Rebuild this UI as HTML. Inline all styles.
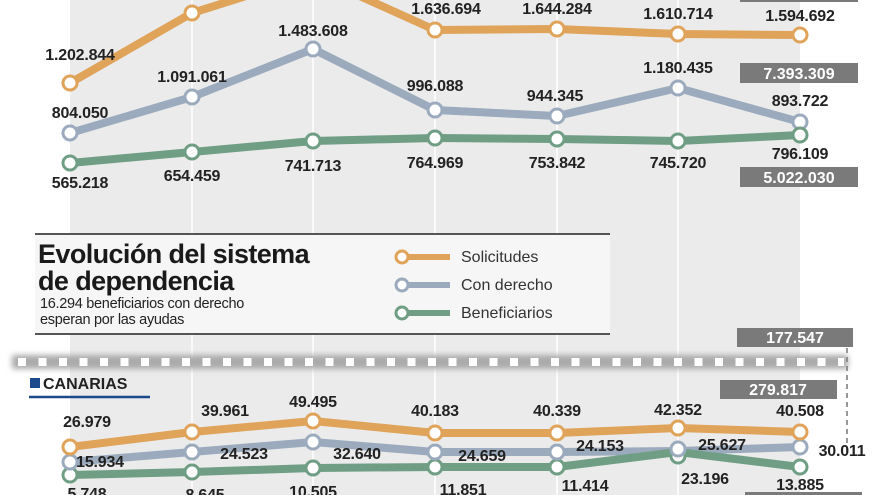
<!DOCTYPE html>
<html><head><meta charset="utf-8"><style>
html,body{margin:0;padding:0;background:#fff;}
svg{display:block;}
text{font-family:"Liberation Sans",sans-serif;}
.v{font-size:16px;font-weight:bold;fill:#222;letter-spacing:-0.2px;}
.b{font-size:16px;font-weight:bold;fill:#fff;text-anchor:middle;}
</style></head><body>
<svg width="880" height="495" viewBox="0 0 880 495" xmlns="http://www.w3.org/2000/svg">
<defs><filter id="sh" x="-5%" y="-100%" width="110%" height="300%"><feGaussianBlur stdDeviation="3"/></filter></defs>
<rect x="0" y="0" width="880" height="495" fill="#fff"/>
<rect x="70" y="0" width="730" height="495" fill="#ebebeb"/>
<g stroke="#fff" stroke-width="1.5">
<line x1="192" y1="0" x2="192" y2="495"/><line x1="313" y1="0" x2="313" y2="495"/><line x1="435" y1="0" x2="435" y2="495"/><line x1="557" y1="0" x2="557" y2="495"/><line x1="678" y1="0" x2="678" y2="495"/>
</g>
<g fill="none" stroke-width="8" stroke-linejoin="round">
<polyline stroke="#e0a35a" points="70,83 192,13 313,-25 435,30 557,29 678,34 800,35"/>
<polyline stroke="#9babbd" points="70,133 192,97 313,49 435,110 557,116 678,88 800,122"/>
<polyline stroke="#6f9e85" points="70,163 192,152 313,141 435,138 557,139 678,141 800,135"/>
</g>
<g fill="#fff" stroke-width="3">
<g stroke="#e0a35a"><circle cx="70" cy="83" r="7"/><circle cx="192" cy="13" r="7"/><circle cx="435" cy="30" r="7"/><circle cx="557" cy="29" r="7"/><circle cx="678" cy="34" r="7"/><circle cx="800" cy="35" r="7"/></g>
<g stroke="#9babbd"><circle cx="70" cy="133" r="7"/><circle cx="192" cy="97" r="7"/><circle cx="313" cy="49" r="7"/><circle cx="435" cy="110" r="7"/><circle cx="557" cy="116" r="7"/><circle cx="678" cy="88" r="7"/><circle cx="800" cy="122" r="7"/></g>
<g stroke="#6f9e85"><circle cx="70" cy="163" r="7"/><circle cx="192" cy="152" r="7"/><circle cx="313" cy="141" r="7"/><circle cx="435" cy="138" r="7"/><circle cx="557" cy="139" r="7"/><circle cx="678" cy="141" r="7"/><circle cx="800" cy="135" r="7"/></g>
</g>
<g class="v" text-anchor="middle">
<text x="80" y="60">1.202.844</text><text x="446" y="14">1.636.694</text><text x="557" y="14">1.644.284</text><text x="678" y="19">1.610.714</text><text x="800" y="21">1.594.692</text>
<text x="80" y="118">804.050</text><text x="192" y="82">1.091.061</text><text x="313" y="36">1.483.608</text><text x="435" y="91">996.088</text><text x="555" y="101">944.345</text><text x="678" y="73">1.180.435</text><text x="800" y="106">893.722</text>
<text x="80" y="188">565.218</text><text x="192" y="181">654.459</text><text x="313" y="171">741.713</text><text x="435" y="168">764.969</text><text x="557" y="168">753.842</text><text x="678" y="168">745.720</text><text x="800" y="159">796.109</text>
</g>
<rect x="740" y="-10" width="118" height="12" fill="#7a7a7a"/>
<rect x="740" y="63" width="118" height="20" fill="#7a7a7a"/><text class="b" x="799" y="79">7.393.309</text>
<rect x="740" y="167" width="118" height="20" fill="#7a7a7a"/><text class="b" x="799" y="183">5.022.030</text>
<rect x="35" y="233" width="575" height="102" fill="#f6f6f6"/>
<line x1="35" y1="234" x2="610" y2="234" stroke="#555" stroke-width="2"/>
<line x1="35" y1="334" x2="610" y2="334" stroke="#555" stroke-width="2"/>
<text x="38" y="263" style="font-size:27px;font-weight:bold;fill:#1a1a1a;letter-spacing:-0.6px">Evolución del sistema</text>
<text x="38" y="290" style="font-size:27px;font-weight:bold;fill:#1a1a1a;letter-spacing:-0.6px">de dependencia</text>
<text x="40" y="308" style="font-size:14.5px;fill:#222;letter-spacing:-0.3px">16.294 beneficiarios con derecho</text>
<text x="40" y="324" style="font-size:14.5px;fill:#222;letter-spacing:-0.3px">esperan por las ayudas</text>
<g stroke-width="6" fill="#fff">
<line x1="402" y1="257" x2="450" y2="257" stroke="#e0a35a"/><circle cx="402" cy="257" r="6" stroke="#e0a35a" stroke-width="3"/>
<line x1="402" y1="285" x2="450" y2="285" stroke="#9babbd"/><circle cx="402" cy="285" r="6" stroke="#9babbd" stroke-width="3"/>
<line x1="402" y1="313" x2="450" y2="313" stroke="#6f9e85"/><circle cx="402" cy="313" r="6" stroke="#6f9e85" stroke-width="3"/>
</g>
<g style="font-size:16px;fill:#333">
<text x="461" y="262">Solicitudes</text><text x="461" y="290">Con derecho</text><text x="461" y="318">Beneficiarios</text>
</g>
<rect x="12" y="355" width="836" height="14" fill="#aaa" filter="url(#sh)"/>
<g fill="#fff">
<rect x="18" y="358" width="8" height="8"/><rect x="38.5" y="358" width="8" height="8"/><rect x="59" y="358" width="8" height="8"/><rect x="79.5" y="358" width="8" height="8"/><rect x="100" y="358" width="8" height="8"/><rect x="120.5" y="358" width="8" height="8"/><rect x="141" y="358" width="8" height="8"/><rect x="161.5" y="358" width="8" height="8"/><rect x="182" y="358" width="8" height="8"/><rect x="202.5" y="358" width="8" height="8"/><rect x="223" y="358" width="8" height="8"/><rect x="243.5" y="358" width="8" height="8"/><rect x="264" y="358" width="8" height="8"/><rect x="284.5" y="358" width="8" height="8"/><rect x="305" y="358" width="8" height="8"/><rect x="325.5" y="358" width="8" height="8"/><rect x="346" y="358" width="8" height="8"/><rect x="366.5" y="358" width="8" height="8"/><rect x="387" y="358" width="8" height="8"/><rect x="407.5" y="358" width="8" height="8"/><rect x="428" y="358" width="8" height="8"/><rect x="448.5" y="358" width="8" height="8"/><rect x="469" y="358" width="8" height="8"/><rect x="489.5" y="358" width="8" height="8"/><rect x="510" y="358" width="8" height="8"/><rect x="530.5" y="358" width="8" height="8"/><rect x="551" y="358" width="8" height="8"/><rect x="571.5" y="358" width="8" height="8"/><rect x="592" y="358" width="8" height="8"/><rect x="612.5" y="358" width="8" height="8"/><rect x="633" y="358" width="8" height="8"/><rect x="653.5" y="358" width="8" height="8"/><rect x="674" y="358" width="8" height="8"/><rect x="694.5" y="358" width="8" height="8"/><rect x="715" y="358" width="8" height="8"/><rect x="735.5" y="358" width="8" height="8"/><rect x="756" y="358" width="8" height="8"/><rect x="776.5" y="358" width="8" height="8"/><rect x="797" y="358" width="8" height="8"/><rect x="817.5" y="358" width="8" height="8"/><rect x="838" y="358" width="6" height="8"/>
</g>
<rect x="737" y="328" width="116" height="19" fill="#7a7a7a"/><text class="b" x="795" y="343">177.547</text>
<rect x="720" y="380" width="117" height="19" fill="#7a7a7a"/><text class="b" x="778" y="395">279.817</text>
<line x1="847" y1="348" x2="847" y2="456" stroke="#777" stroke-width="1.5" stroke-dasharray="5,4"/>
<rect x="745" y="492" width="117" height="10" fill="#7a7a7a"/>
<rect x="30" y="378" width="10" height="10" fill="#1b4a8c"/>
<text x="43" y="389" style="font-size:16px;font-weight:bold;fill:#222">CANARIAS</text>
<line x1="29" y1="397" x2="150" y2="397" stroke="#1b4a8c" stroke-width="2.5"/>
<g fill="none" stroke-width="8" stroke-linejoin="round">
<polyline stroke="#e0a35a" points="70,447 192,432 313,421 435,433 557,433 678,428 800,432"/>
<polyline stroke="#9babbd" points="70,462 192,452 313,442 435,452 557,452 678,451 800,447"/>
<polyline stroke="#6f9e85" points="70,475 192,472 313,468 435,467 557,467 678,452 800,467"/>
</g>
<g fill="#fff" stroke-width="3">
<g stroke="#6f9e85"><circle cx="70" cy="475" r="7"/><circle cx="192" cy="472" r="7"/><circle cx="313" cy="468" r="7"/><circle cx="435" cy="467" r="7"/><circle cx="557" cy="467" r="7"/><circle cx="678" cy="456" r="7"/><circle cx="800" cy="467" r="7"/></g>
<g stroke="#9babbd"><circle cx="70" cy="462" r="7"/><circle cx="192" cy="452" r="7"/><circle cx="313" cy="442" r="7"/><circle cx="435" cy="452" r="7"/><circle cx="557" cy="452" r="7"/><circle cx="678" cy="449" r="7"/><circle cx="800" cy="447" r="7"/></g>
<g stroke="#e0a35a"><circle cx="70" cy="447" r="7"/><circle cx="192" cy="432" r="7"/><circle cx="313" cy="421" r="7"/><circle cx="435" cy="433" r="7"/><circle cx="557" cy="433" r="7"/><circle cx="678" cy="428" r="7"/><circle cx="800" cy="432" r="7"/></g>
</g>
<g class="v" text-anchor="middle">
<text x="87" y="427">26.979</text><text x="225" y="416">39.961</text><text x="313" y="407">49.495</text><text x="435" y="416">40.183</text><text x="557" y="416">40.339</text><text x="678" y="415">42.352</text><text x="800" y="416">40.508</text>
<text x="100" y="467">15.934</text><text x="244" y="459">24.523</text><text x="357" y="459">32.640</text><text x="482" y="461">24.659</text><text x="600" y="451">24.153</text><text x="722" y="450">25.627</text><text x="842" y="456">30.011</text>
<text x="87" y="499">5.748</text><text x="205" y="500">8.645</text><text x="313" y="497">10.505</text><text x="463" y="495">11.851</text><text x="585" y="491">11.414</text><text x="705" y="484">23.196</text><text x="800" y="490">13.885</text>
</g>
</svg>
</body></html>
